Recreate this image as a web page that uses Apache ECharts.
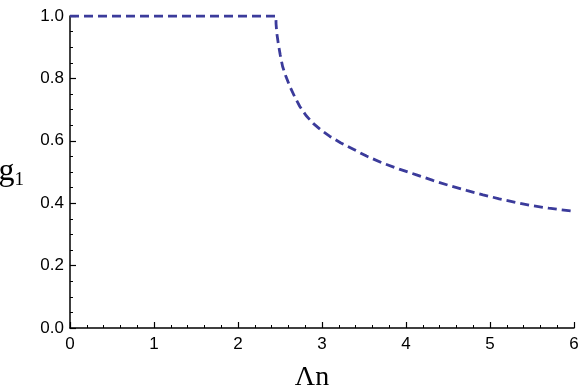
<!DOCTYPE html>
<html>
<head>
<meta charset="utf-8">
<script src="https://cdn.jsdelivr.net/npm/echarts@6/dist/echarts.min.js"></script>
<style>
    html, body { margin: 0; padding: 0; background: #fff; }
    #chart { width: 584px; height: 388px; }
</style>
</head>
<body>
<div id="chart"></div>
<script>
// values
var lambdaN = [0, 2.451, 2.453, 2.462, 2.479, 2.503, 2.531, 2.572, 2.618, 2.675, 2.736, 2.81, 2.895, 2.99, 3.094, 3.22, 3.35, 3.53, 3.727, 3.92, 4.125, 4.32, 4.521, 4.72, 4.917, 5.11, 5.315, 5.5, 5.7, 6.0];
var g1 = [1.0, 1.0, 0.975, 0.945, 0.913, 0.875, 0.838, 0.805, 0.774, 0.741, 0.71, 0.681, 0.656, 0.634, 0.614, 0.594, 0.576, 0.551, 0.528, 0.509, 0.491, 0.473, 0.456, 0.441, 0.427, 0.414, 0.402, 0.392, 0.384, 0.374];
var xTicks = [0, 1, 2, 3, 4, 5, 6];
var yTicks = [0, 0.2, 0.4, 0.6, 0.8, 1.0];

var pts = [];
for (var i = 0; i < lambdaN.length; i++) {
    pts.push([lambdaN[i], g1[i]]);
}

var myChart = echarts.init(document.getElementById('chart'));
var labelFont = { color: '#000', fontFamily: 'Liberation Sans', fontSize: 17 };
var axisLine = { lineStyle: { color: '#000', width: 1.5 } };

var option = {
    animation: false,
    grid: { left: 70, right: 10, top: 16, bottom: 60, containLabel: false, outerBoundsMode: 'none' },
    xAxis: {
        type: 'value',
        min: xTicks[0],
        max: xTicks[xTicks.length - 1],
        interval: 1,
        name: 'Λn',
        nameLocation: 'middle',
        nameGap: 36,
        nameTextStyle: { fontFamily: 'Liberation Serif', fontSize: 28, color: '#000', padding: [0, 20, 0, 0] },
        axisLine: axisLine,
        axisTick: { inside: true, length: 6, lineStyle: { color: '#000', width: 1.2 } },
        minorTick: { show: true, splitNumber: 5, length: 3, lineStyle: { color: '#000', width: 1 } },
        splitLine: { show: false },
        axisLabel: Object.assign({ margin: 8 }, labelFont)
    },
    yAxis: {
        type: 'value',
        min: yTicks[0],
        max: yTicks[yTicks.length - 1],
        interval: 0.2,
        name: '{g|g}{s|1}',
        nameLocation: 'middle',
        nameRotate: 0,
        nameGap: 46,
        nameTextStyle: {
            rich: {
                g: { fontFamily: 'Liberation Serif', fontSize: 32, color: '#000' },
                s: { fontFamily: 'Liberation Serif', fontSize: 19, color: '#000', verticalAlign: 'bottom', padding: [16, 0, 0, 0] }
            }
        },
        axisLine: axisLine,
        axisTick: { inside: true, length: 6, lineStyle: { color: '#000', width: 1.2 } },
        minorTick: { show: true, splitNumber: 4, length: 3, lineStyle: { color: '#000', width: 1 } },
        splitLine: { show: false },
        axisLabel: Object.assign({
            margin: 6,
            formatter: function (v) { return v.toFixed(1); }
        }, labelFont)
    },
    series: [{
        type: 'line',
        data: pts,
        smooth: false,
        showSymbol: false,
        lineStyle: { color: '#3b3b9b', width: 2.8, type: [9, 5] }
    }]
};
myChart.setOption(option);
</script>
</body>
</html>
